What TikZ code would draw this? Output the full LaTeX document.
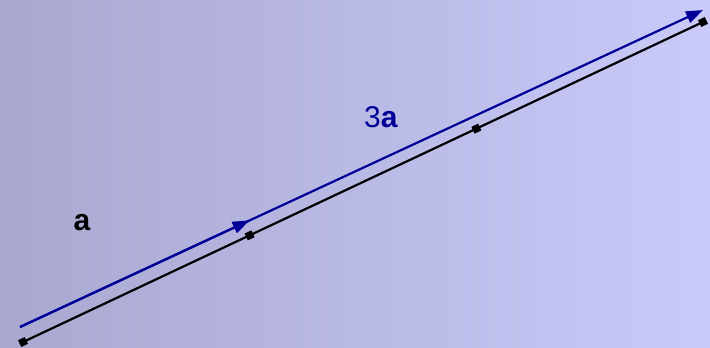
\documentclass[tikz,border=0pt]{standalone}
\usepackage{fontspec}
\setmainfont{Liberation Sans}
\usetikzlibrary{arrows.meta,calc}
\definecolor{bgL}{RGB}{168,168,208}
\definecolor{bgR}{RGB}{202,202,250}
\definecolor{vecblue}{RGB}{0,0,150}
\tikzset{
  vecline/.style={line width=2.2pt},
  dotmark/.style={fill=black,draw=none,minimum size=7.5pt,inner sep=0pt,rectangle,rotate=25.2},
  lbl/.style={font=\fontsize{30}{34}\selectfont,inner sep=0pt},
  vectip/.style={-{Triangle[length=17pt,width=12pt]}}
}
\begin{document}
\begin{tikzpicture}[x=1pt,y=-1pt]
\shade[left color=bgL,right color=bgR] (0,0) rectangle (710,348);
\useasboundingbox (0,0) rectangle (710,348);
% black line with markers
\coordinate (b0) at (23,342);
\coordinate (b3) at (703,22);
\draw[vecline,black] (b0) -- (b3);
\foreach \t/\n in {0/m0,0.3333/m1,0.6667/m2,1/m3}
  \node[dotmark] (\n) at ($(b0)!\t!(b3)$) {};
% blue vector 3a
\coordinate (a0) at (20,327);
\coordinate (a3) at (703,10);
\coordinate (a1) at ($(a0)!0.3333!(a3)+(2,-1)$);
\draw[vecline,vecblue,vectip] (a0) -- (a3);
\draw[vecline,vecblue,vectip] (a0) -- (a1);
\node[lbl,text=black] (la) at (82,223) {\textbf{a}};
\node[lbl,text=vecblue] (l3a) at (381,117) {3\textbf{a}};
\end{tikzpicture}
\end{document}
